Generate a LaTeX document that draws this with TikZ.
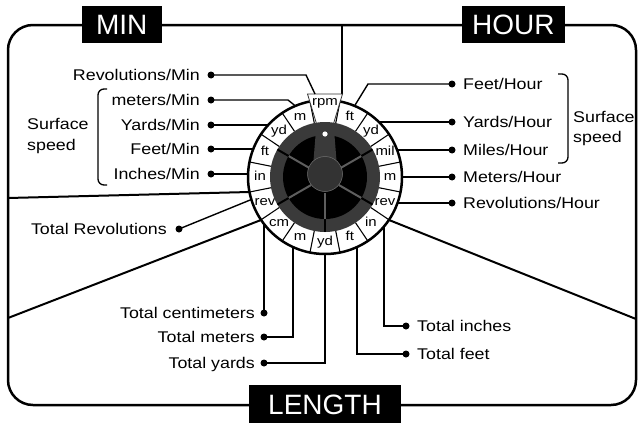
\documentclass[tikz,border=0pt]{standalone}
\usepackage{fontspec}
\setmainfont{Liberation Sans}
\newfontfamily\labfont[FakeStretch=1.15]{Liberation Sans}
\definecolor{ringdark}{HTML}{3A3A3A}
\definecolor{knobdark}{HTML}{333333}
\definecolor{spokegray}{HTML}{5E5E5E}
\begin{document}
\begin{tikzpicture}[x=1pt,y=-1pt,
  lbl/.style={font=\labfont\fontsize{15.5}{18}\selectfont, inner sep=0pt, text height=11pt, text depth=0pt},
  seglbl/.style={font=\labfont\fontsize{13}{15}\selectfont, inner sep=0pt, text height=7pt, text depth=0pt},
  ttl/.style={fill=black, text=white, font=\fontsize{28}{30}\selectfont, inner sep=0pt, minimum height=37pt, text height=20pt, text depth=0pt},
  dotnode/.style={circle, fill=black, inner sep=0pt, minimum size=7pt},
  conn/.style={line width=1.4pt},
  bigline/.style={line width=2pt},
  brace/.style={line width=1.3pt, rounded corners=6pt},
]
\useasboundingbox (0,0) rectangle (639,423);

% frame
\draw[line width=2.5pt, rounded corners=25pt] (8,25) rectangle (636,405);

% long separating lines
\coordinate (fTop) at (342,25);
\coordinate (rpmTR) at (342,94);
\coordinate (fLeftA) at (8,198);
\coordinate (rLeftA) at (249.5,192);
\coordinate (fLeftB) at (8,318);
\coordinate (rLeftB) at (261,220);
\coordinate (fRight) at (636,319);
\coordinate (rRight) at (389,220);
\draw[bigline] (fTop) -- (rpmTR);
\draw[bigline] (fLeftA) -- (rLeftA);
\draw[bigline] (fLeftB) -- (rLeftB);
\draw[bigline] (fRight) -- (rRight);

% dial
\begin{scope}[shift={(325,177)}, yscale=-1]
  \coordinate (C) at (0,0);
  \fill[white] (C) circle (77);
  \foreach \k in {0,...,15} \draw[line width=1.1pt] ({11.25+22.5*\k}:55) -- ({11.25+22.5*\k}:77);
  \draw[line width=2.5pt] (C) circle (77);
  \foreach \a/\t/\n in {67.5/ft/s1, 45/yd/s2, 22.5/mil/s3, 0/m/s4, -22.5/rev/s5, -45/in/s6, -67.5/ft/s7, -90/yd/s8, -112.5/m/s9, -135/cm/s10, -157.5/rev/s11, 180/in/s12, 157.5/ft/s13, 135/yd/s14, 112.5/m/s15}
    \node[seglbl] (\n) at (\a:65) {\t};
  % rpm box
  \fill[white] (-7.5,50) -- (-17.5,83) -- (17.5,83) -- (7.5,50) -- cycle;
  \draw[line width=0.8pt, draw=black!80] (-7.5,50) -- (-17.5,83) -- (17.5,83) -- (7.5,50);
  \node[seglbl] (sRpm) at (0,75) {rpm};
  % knob
  \fill[ringdark] (C) circle (55);
  \fill[black] (C) circle (42);
  \foreach \a in {30,150,210,330,270} {
    \draw[spokegray, line width=2pt] (\a:16) -- (\a:42);
    \draw[black, line width=2pt] (\a:42) -- (\a:55);
  }
  \fill[ringdark, rounded corners=2pt] (-12,10) -- (-8.5,54) -- (8.5,54) -- (12,10) -- cycle;
  \fill[knobdark] (0,3) circle (17.5);
  \draw[black!55, line width=0.5pt] (0,3) circle (17.5);
  \fill[white] (0,43) circle (2.6);
\end{scope}

% left labels (MIN)
\node[lbl, anchor=east] (tRevMin) at (200,75) {Revolutions/Min};
\node[dotnode] (dRevMin) at (211,75) {};
\coordinate (bRevMin) at (306,75);
\coordinate (aRevMin) at (315,94);
\draw[conn] (dRevMin.center) -- (bRevMin) -- (aRevMin);

\node[lbl, anchor=east] (tMetMin) at (200,100) {meters/Min};
\node[dotnode] (dMetMin) at (211,100) {};
\coordinate (bMetMin) at (288,100);
\coordinate (aMetMin) at (295.5,106);
\draw[conn] (dMetMin.center) -- (bMetMin) -- (aMetMin);

\node[lbl, anchor=east] (tYdMin) at (200,125) {Yards/Min};
\node[dotnode] (dYdMin) at (211,125) {};
\coordinate (aYdMin) at (268.2,125);
\draw[conn] (dYdMin.center) -- (aYdMin);

\node[lbl, anchor=east] (tFtMin) at (200,149) {Feet/Min};
\node[dotnode] (dFtMin) at (211,149) {};
\coordinate (aFtMin) at (253.3,149);
\draw[conn] (dFtMin.center) -- (aFtMin);

\node[lbl, anchor=east] (tInMin) at (200,174) {Inches/Min};
\node[dotnode] (dInMin) at (211,174) {};
\coordinate (aInMin) at (248.1,174);
\draw[conn] (dInMin.center) -- (aInMin);

\draw[brace] (107,89) -- (98,89) -- (98,185) -- (107,185);
\node[lbl, anchor=west] (tSurfL) at (27,124) {Surface};
\node[lbl, anchor=west] (tSpeedL) at (27,145) {speed};

\node[lbl, anchor=east] (tTotRev) at (167,229) {Total Revolutions};
\node[dotnode] (dTotRev) at (179,229) {};
\coordinate (aTotRev) at (251.4,199.5);
\draw[conn] (dTotRev.center) -- (aTotRev);

% right labels (HOUR)
\node[dotnode] (dFtHr) at (452,84) {};
\node[lbl, anchor=west] (tFtHr) at (463,84) {Feet/Hour};
\coordinate (bFtHr) at (368,84);
\coordinate (aFtHr) at (354.5,106);
\draw[conn] (dFtHr.center) -- (bFtHr) -- (aFtHr);

\node[dotnode] (dYdHr) at (452,122) {};
\node[lbl, anchor=west] (tYdHr) at (463,122) {Yards/Hour};
\coordinate (aYdHr) at (378.9,122);
\draw[conn] (dYdHr.center) -- (aYdHr);

\node[dotnode] (dMiHr) at (452,150) {};
\node[lbl, anchor=west] (tMiHr) at (463,150) {Miles/Hour};
\coordinate (aMiHr) at (397.1,150);
\draw[conn] (dMiHr.center) -- (aMiHr);

\node[dotnode] (dMHr) at (452,177) {};
\node[lbl, anchor=west] (tMHr) at (463,177) {Meters/Hour};
\coordinate (aMHr) at (402,177);
\draw[conn] (dMHr.center) -- (aMHr);

\node[dotnode] (dRevHr) at (452,203) {};
\node[lbl, anchor=west] (tRevHr) at (463,203) {Revolutions/Hour};
\coordinate (aRevHr) at (397.5,203);
\draw[conn] (dRevHr.center) -- (aRevHr);

\draw[brace] (558,74) -- (568,74) -- (568,163) -- (558,163);
\node[lbl, anchor=west] (tSurfR) at (573,117) {Surface};
\node[lbl, anchor=west] (tSpeedR) at (573,137) {speed};

% bottom labels (LENGTH)
\node[lbl, anchor=east] (tTcm) at (255,313) {Total centimeters};
\node[dotnode] (dTcm) at (264,313) {};
\coordinate (aTcm) at (264,224);
\draw[conn] (dTcm.center) -- (aTcm);

\node[lbl, anchor=east] (tTm) at (255,337) {Total meters};
\node[dotnode] (dTm) at (264,337) {};
\coordinate (aTm) at (293,247);
\draw[conn] (dTm.center) -| (aTm);

\node[lbl, anchor=east] (tTyd) at (255,363) {Total yards};
\node[dotnode] (dTyd) at (264,363) {};
\coordinate (aTyd) at (325,254);
\draw[conn] (dTyd.center) -| (aTyd);

\node[dotnode] (dTin) at (406,326) {};
\node[lbl, anchor=west] (tTin) at (417,326) {Total inches};
\coordinate (aTin) at (384,226.5);
\draw[conn] (dTin.center) -| (aTin);

\node[dotnode] (dTft) at (406,354) {};
\node[lbl, anchor=west] (tTft) at (417,354) {Total feet};
\coordinate (aTft) at (357,247);
\draw[conn] (dTft.center) -| (aTft);

% titles
\node[ttl, minimum width=80pt] (tMIN) at (121.7,24.7) {MIN};
\node[ttl, minimum width=103pt] (tHOUR) at (513.3,24.7) {HOUR};
\node[ttl, minimum width=152pt, minimum height=38pt] (tLEN) at (325,404) {LENGTH};
\end{tikzpicture}
\end{document}
